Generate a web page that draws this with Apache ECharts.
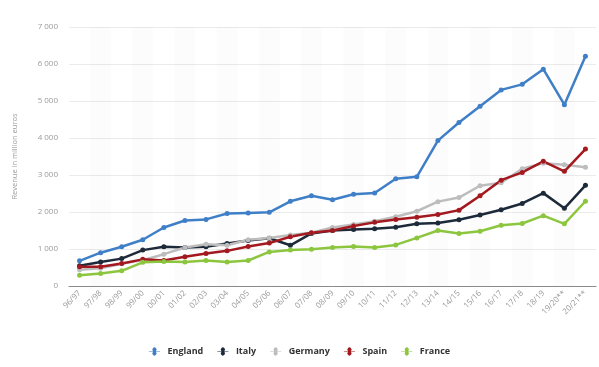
<!DOCTYPE html>
<html>
<head>
<meta charset="utf-8">
<script src="https://cdn.jsdelivr.net/npm/echarts@6/dist/echarts.min.js"></script>
<style>
html,body{margin:0;padding:0;background:#fff;}
#chart{width:599px;height:367px;}
</style>
</head>
<body>
<div id="chart"></div>
<script>
const categories = ["96/97","97/98","98/99","99/00","00/01","01/02","02/03","03/04","04/05","05/06","06/07","07/08","08/09","09/10","10/11","11/12","12/13","13/14","14/15","15/16","16/17","17/18","18/19","19/20**","20/21**"];
const england = [680,900,1060,1250,1580,1770,1800,1960,1975,1990,2290,2440,2330,2480,2515,2900,2950,3930,4420,4860,5300,5450,5860,4900,6210];
const italy   = [550,650,740,970,1060,1040,1060,1150,1230,1290,1100,1420,1500,1530,1550,1590,1680,1700,1790,1920,2060,2230,2510,2100,2720];
const germany = [440,480,600,700,860,1040,1130,1100,1250,1300,1380,1440,1580,1660,1750,1870,2020,2280,2390,2710,2790,3170,3320,3280,3210];
const spain   = [520,520,610,720,690,790,880,950,1070,1160,1330,1440,1500,1620,1720,1800,1860,1930,2050,2440,2860,3070,3370,3100,3700];
const france  = [290,340,410,640,660,650,690,650,690,920,970,990,1040,1070,1040,1110,1300,1500,1420,1480,1640,1690,1900,1680,2290];
const yTicks = [0,1000,2000,3000,4000,5000,6000,7000];

const seriesDefs = [
  {name:"England", data:england, color:"#3f7fc7"},
  {name:"Italy", data:italy, color:"#1d2a39"},
  {name:"Germany", data:germany, color:"#bdbdbd"},
  {name:"Spain", data:spain, color:"#a3191f"},
  {name:"France", data:france, color:"#8cc63f"}
];

const chart = echarts.init(document.getElementById('chart'));
chart.setOption({
  animation:false,
  backgroundColor:"#ffffff",
  textStyle:{fontFamily:"Open Sans, DejaVu Sans, sans-serif"},
  grid:{left:69,right:3,top:27,bottom:81,containLabel:false},
  legend:{
    bottom:6,left:"center",
    itemWidth:16,itemHeight:8,itemGap:14,
    icon:"path://M0,4 L6,4 A3,3 0 1 1 10,4 L16,4 L16,5 L10,5 A3,3 0 1 1 6,5 L0,5 Z",
    textStyle:{fontSize:9,color:"#333",fontWeight:"bold"},
    data:seriesDefs.map(s=>s.name)
  },
  xAxis:{
    type:"category",
    data:categories,
    boundaryGap:true,
    axisLine:{lineStyle:{color:"#8a8a8a",width:1}},
    axisTick:{show:false},
    axisLabel:{rotate:45,fontSize:8,color:"#9a9a9a",margin:6,interval:0},
    splitArea:{show:true,interval:0,areaStyle:{color:["rgba(0,0,0,0)","rgba(0,0,0,0.012)"]}}
  },
  yAxis:{
    type:"value",
    min:0,max:7000,interval:1000,
    name:"Revenue in million euros",
    nameLocation:"middle",
    nameGap:50,
    nameTextStyle:{fontSize:7.5,color:"#9a9a9a"},
    axisLine:{show:false},
    axisTick:{show:false},
    axisLabel:{fontSize:8,color:"#9a9a9a",margin:11,
      formatter:function(v){return String(v).replace(/\B(?=(\d{3})+(?!\d))/g," ");}},
    splitLine:{lineStyle:{color:"#ebebeb",width:1}}
  },
  series:seriesDefs.map(s=>({
    name:s.name,type:"line",data:s.data,
    color:s.color,
    symbol:"circle",symbolSize:5,
    lineStyle:{width:2.5,color:s.color},
    itemStyle:{color:s.color}
  }))
});
</script>
</body>
</html>
